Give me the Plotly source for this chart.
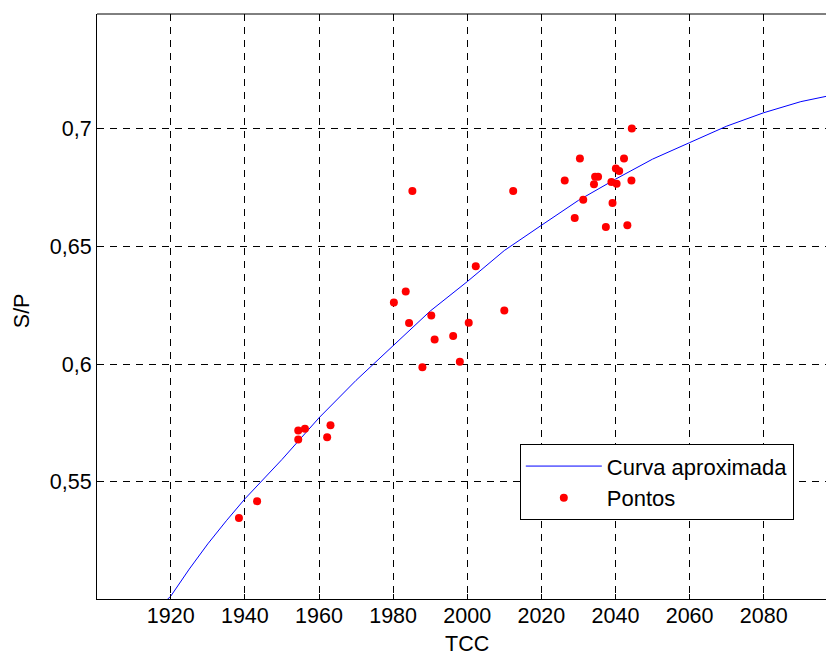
import plotly.graph_objects as go

# Fitted curve
curve_x = [1919, 1920, 1925, 1930, 1935, 1940, 1950, 1960, 1970, 1980, 1990, 2000, 2010,
           2020, 2030, 2040, 2050, 2060, 2070, 2080, 2090, 2097]
curve_y = [0.500, 0.5015, 0.5130, 0.5237, 0.5335, 0.5428, 0.5595, 0.5772, 0.5931, 0.6080, 0.6225,
           0.6350, 0.6482, 0.6589, 0.6695, 0.6785, 0.6870, 0.6940, 0.7010, 0.7067, 0.7114, 0.7137]

# Data points
pts_x = [1938.4, 1943.3, 1954.4, 1956.2, 1954.4, 1963.1, 1962.2,
         1985.2, 2012.4, 2002.3, 1983.4, 1980.2, 1984.3, 1990.3, 2000.4, 2010.0,
         1991.2, 1996.2, 1987.9, 1998.0,
         2044.4, 2030.4, 2042.3, 2040.1, 2041.0, 2034.5, 2035.3, 2034.2, 2038.9,
         2040.3, 2026.3, 2044.3, 2031.3, 2039.2, 2029.0, 2037.4, 2043.2]
pts_y = [0.5347, 0.5418, 0.5718, 0.5726, 0.5680, 0.5741, 0.5690,
         0.6735, 0.6735, 0.6415, 0.6308, 0.6262, 0.6174, 0.6206, 0.6176, 0.6228,
         0.6104, 0.6119, 0.5987, 0.6010,
         0.7000, 0.6873, 0.6873, 0.6830, 0.6820, 0.6795, 0.6795, 0.6763, 0.6773,
         0.6766, 0.6779, 0.6779, 0.6698, 0.6684, 0.6620, 0.6582, 0.6589]

x_ticks = [1920, 1940, 1960, 1980, 2000, 2020, 2040, 2060, 2080]
x_labels = [str(v) for v in x_ticks]
y_ticks = [0.55, 0.6, 0.65, 0.7]
y_labels = ["0,55", "0,6", "0,65", "0,7"]

FONT = "Liberation Sans, Arial, sans-serif"

fig = go.Figure()
fig.add_trace(go.Scatter(x=curve_x, y=curve_y, mode="lines", name="Curva aproximada",
                         line=dict(color="#0000FF", width=1)))
fig.add_trace(go.Scatter(x=pts_x, y=pts_y, mode="markers", name="Pontos",
                         marker=dict(color="#FF0000", size=8, line=dict(width=0))))

fig.update_layout(
    width=826, height=655,
    margin=dict(l=97, r=0, t=14, b=56, autoexpand=False),
    paper_bgcolor="white", plot_bgcolor="white",
    font=dict(family=FONT, size=21.5, color="black"),
    showlegend=True,
    legend=dict(x=0.58, y=0.2645, xanchor="left", yanchor="top",
                bordercolor="black", borderwidth=1, bgcolor="white",
                font=dict(size=22), itemwidth=76, tracegroupgap=0),
    xaxis=dict(range=[1900.1, 2096.8], tickvals=x_ticks, ticktext=x_labels,
               tickfont=dict(size=21.5), automargin=False, ticklabelstandoff=-3,
               showgrid=True, gridcolor="black", gridwidth=1, griddash="7px,6px",
               showline=True, linecolor="black", linewidth=1, mirror=False,
               ticks="inside", ticklen=5, tickcolor="black", zeroline=False),
    yaxis=dict(range=[0.5003, 0.7486], tickvals=y_ticks, ticktext=y_labels,
               tickfont=dict(size=21.5), automargin=False,
               showgrid=True, gridcolor="black", gridwidth=1, griddash="7px,6px",
               showline=True, linecolor="black", linewidth=1, mirror=False,
               ticks="inside", ticklen=5, tickcolor="black", zeroline=False),
    annotations=[
        dict(text="TCC", xref="paper", yref="paper", x=0.508, y=-0.0764,
             xanchor="center", yanchor="middle", showarrow=False, font=dict(size=21.5)),
        dict(text="S/P", xref="paper", yref="paper", x=-0.1026, y=0.4923,
             xanchor="center", yanchor="middle", textangle=-90, showarrow=False,
             font=dict(size=21.5)),
    ],
    shapes=[dict(type="line", xref="paper", yref="paper", x0=0, x1=1, y0=1, y1=1,
                 line=dict(color="black", width=1))],
)

fig.write_html("out.html", config={"displayModeBar": False},
               post_script="document.body.style.margin='0px';document.body.style.overflow='hidden';")
